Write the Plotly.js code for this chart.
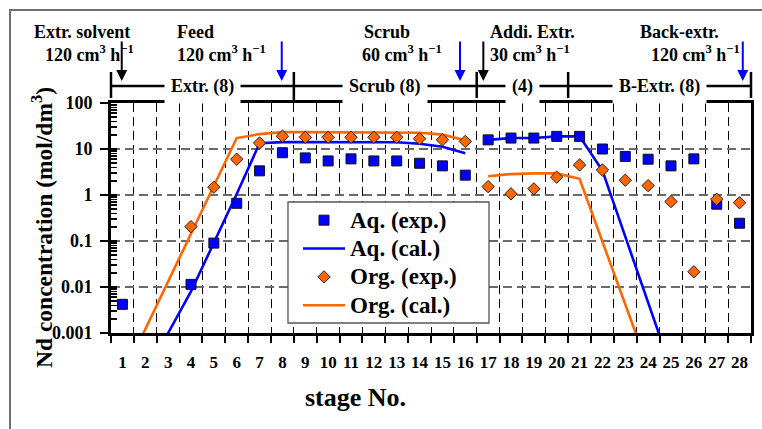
<!DOCTYPE html>
<html>
<head>
<meta charset="utf-8">
<script src="https://cdn.plot.ly/plotly-3.0.1.min.js"></script>
<style>
  html, body { margin: 0; padding: 0; background: #ffffff; }
  #chart { width: 762px; height: 429px; }
</style>
</head>
<body>
<div id="chart"></div>
<script>
// Stage numbers of the 28-stage mixer-settler cascade
const stages = [1, 2, 3, 4, 5, 6, 7, 8, 9, 10, 11, 12, 13, 14, 15, 16, 17, 18, 19, 20, 21, 22, 23, 24, 25, 26, 27, 28];
const stageLabels = ['1', '2', '3', '4', '5', '6', '7', '8', '9', '10', '11', '12', '13', '14',
  '15', '16', '17', '18', '19', '20', '21', '22', '23', '24', '25', '26', '27', '28'];

// Measured Nd concentrations (mol/dm3) per stage
const aqExp = [0.0042, null, null, 0.0114, 0.09, 0.66, 3.35, 8.3, 6.4, 5.5, 6.1, 5.5, 5.5, 4.9,
  4.3, 2.7, 15.8, 17.3, 17.3, 18.8, 18.8, 10.0, 6.9, 6.0, 4.3, 6.1, 0.63, 0.243];
const orgExp = [null, null, null, 0.205, 1.48, 6.0, 13.5, 19.0, 18.0, 18.0, 18.0, 18.0, 18.0, 16.7,
  15.8, 14.6, 1.52, 1.06, 1.36, 2.44, 4.5, 3.5, 2.1, 1.6, 0.72, 0.0214, 0.81, 0.68];

// Calculated profiles: extraction + scrub section, then additional extraction + back-extraction
const aqCalStagesA = [2, 3, 4, 5, 6, 7, 8, 9, 10, 11, 12, 13, 14, 15, 16];
const aqCalA = [0.0001, 0.001, 0.008, 0.09, 1.05, 13.3, 14.1, 14.1, 14.1, 14.1, 14.1, 14.0, 13.0, 11.2, 8.1];
const aqCalStagesB = [17, 18, 19, 20, 21, 22, 23, 24, 25];
const aqCalB = [15.8, 17.3, 17.3, 18.8, 18.8, 3.4, 0.124, 0.0046, 0.00017];
const orgCalStagesA = [1, 2, 3, 4, 5, 6, 7, 8, 9, 10, 11, 12, 13, 14, 15, 16];
const orgCalA = [0.00011, 0.0012, 0.014, 0.15, 1.6, 17.3, 21.1, 23.3, 23.3, 23.3, 23.3, 23.3, 23.1, 22.6, 20.5, 15.5];
const orgCalStagesB = [17, 18, 19, 20, 21, 22, 23, 24];
const orgCalB = [2.55, 2.85, 2.95, 2.95, 2.25, 0.097, 0.0041, 0.00018];

// Cascade sections and their boundaries (in stage units)
const sectionBounds = [0.5, 8.5, 16.5, 20.5, 28.5];
const sectionNames = ['Extr. (8)', 'Scrub (8)', '(4)', 'B-Extr. (8)'];

// Feed streams: name, flow rate, stage where they enter, phase colour
const inletNames = ['Extr. solvent', 'Feed', 'Scrub', 'Addi. Extr.', 'Back-extr.'];
const inletFlows = ['120 cm<sup>3</sup> h<sup>\u22121</sup>', '120 cm<sup>3</sup> h<sup>\u22121</sup>',
  '60 cm<sup>3</sup> h<sup>\u22121</sup>', '30 cm<sup>3</sup> h<sup>\u22121</sup>', '120 cm<sup>3</sup> h<sup>\u22121</sup>'];
const inletStages = [0.97, 7.97, 15.77, 16.79, 28.14];
const inletColors = ['#000000', '#0000ff', '#0000ff', '#000000', '#0000ff'];

const BLUE = '#0000ff';
const ORANGE = '#ff6600';
const SERIF = 'Liberation Serif, Times New Roman, serif';

const W = 762, H = 429;
const M = { l: 111, r: 11, t: 103, b: 96 };
const plotW = W - M.l - M.r, plotH = H - M.t - M.b;
const xRange = [0.5, 28.5];
const yRange = [-3, 2];
// pixel -> paper helpers for page decorations
const PX = px => (px - M.l) / plotW;
const PY = py => (H - M.b - py) / plotH;
const SX = s => (s - xRange[0]) / (xRange[1] - xRange[0]);

// legend entries: compact line spacing, larger glyphs
const legendName = t => '<span style="font-size:23px">' + t + '</span>';

// calculated lines live on the gridded x/y pair, measured points on the labelled x2/y2 pair
const traces = [
  { x: aqCalStagesA, y: aqCalA, mode: 'lines', name: legendName('Aq. (cal.)'), legendgroup: 'aqcal', legendrank: 2,
    line: { color: BLUE, width: 2.6 } },
  { x: aqCalStagesB, y: aqCalB, mode: 'lines', name: legendName('Aq. (cal.)'), legendgroup: 'aqcal', showlegend: false,
    line: { color: BLUE, width: 2.6 } },
  { x: orgCalStagesA, y: orgCalA, mode: 'lines', name: legendName('Org. (cal.)'), legendgroup: 'orgcal', legendrank: 4,
    line: { color: ORANGE, width: 2.6 } },
  { x: orgCalStagesB, y: orgCalB, mode: 'lines', name: legendName('Org. (cal.)'), legendgroup: 'orgcal', showlegend: false,
    line: { color: ORANGE, width: 2.6 } },
  { x: stages, y: aqExp, xaxis: 'x2', yaxis: 'y2', mode: 'markers', name: legendName('Aq. (exp.)'), legendrank: 1,
    marker: { symbol: 'square', size: 10, color: BLUE, line: { color: '#111', width: 1 } } },
  { x: stages, y: orgExp, xaxis: 'x2', yaxis: 'y2', mode: 'markers', name: legendName('Org. (exp.)'), legendrank: 3,
    marker: { symbol: 'diamond', size: 9.5, color: ORANGE, line: { color: '#222', width: 1 } } }
];

const bracketY = PY(86);
const shapes = [];
// outer frame of the figure
shapes.push({ type: 'rect', xref: 'paper', yref: 'paper', x0: PX(10), x1: PX(790), y0: PY(10), y1: PY(460),
  line: { color: '#6f6f6f', width: 2 }, layer: 'below' });
// section bracket above the plot
shapes.push({ type: 'line', xref: 'paper', yref: 'paper', x0: SX(sectionBounds[0]), x1: SX(sectionBounds[sectionBounds.length - 1]),
  y0: bracketY, y1: bracketY, line: { color: '#000', width: 2.5 } });
sectionBounds.forEach((b, i) => {
  shapes.push({ type: 'line', xref: 'paper', yref: 'paper', x0: SX(b), x1: SX(b),
    y0: PY(72), y1: i === 1 ? 1 : PY(98), line: { color: '#000', width: 2.5 } });
});
// legend box
shapes.push({ type: 'rect', xref: 'paper', yref: 'paper', x0: PX(288), x1: PX(489), y0: PY(323), y1: PY(202),
  fillcolor: '#ffffff', line: { color: '#555', width: 1.3 }, layer: 'above' });

const annotations = [];
sectionNames.forEach((name, i) => {
  annotations.push({ xref: 'paper', yref: 'paper', x: SX((sectionBounds[i] + sectionBounds[i + 1]) / 2), y: bracketY,
    text: name, showarrow: false, xanchor: 'center', yanchor: 'middle', bgcolor: '#ffffff', borderpad: 6,
    font: { family: SERIF, size: 18, weight: 'bold', color: '#000' } });
});
const nameLeft = [32, 175, 362, 488, 638];
const flowLeft = [43, 175, 360, 488, 649];
inletNames.forEach((name, i) => {
  annotations.push({ xref: 'paper', yref: 'paper', x: PX(nameLeft[i]), y: PY(32), text: name, showarrow: false,
    xanchor: 'left', yanchor: 'middle', font: { family: SERIF, size: 18, weight: 'bold', color: '#000' } });
  annotations.push({ xref: 'paper', yref: 'paper', x: PX(flowLeft[i]), y: PY(54), text: inletFlows[i], showarrow: false,
    xanchor: 'left', yanchor: 'middle', font: { family: SERIF, size: 18, weight: 'bold', color: '#000' } });
  annotations.push({ xref: 'x', yref: 'paper', x: inletStages[i], y: PY(81), text: '', showarrow: true,
    ax: 0, ay: -41, arrowhead: 2, arrowsize: 1.1, arrowwidth: 2, arrowcolor: inletColors[i], standoff: 0 });
});
// axis titles
annotations.push({ xref: 'paper', yref: 'paper', x: PX(42), y: PY(228), textangle: -90, showarrow: false,
  text: 'Nd concentration (mol/dm<sup>3</sup>)', xanchor: 'center', yanchor: 'middle',
  font: { family: SERIF, size: 23.5, weight: 'bold', color: '#000' } });
annotations.push({ xref: 'paper', yref: 'paper', x: PX(355), y: PY(397), showarrow: false,
  text: 'stage No.', xanchor: 'center', yanchor: 'middle',
  font: { family: SERIF, size: 26, weight: 'bold', color: '#000' } });

const tickFont = { family: SERIF, size: 17, weight: 'bold', color: '#000' };

const layout = {
  width: W, height: H,
  margin: M,
  paper_bgcolor: '#ffffff', plot_bgcolor: '#ffffff',
  font: { family: SERIF, color: '#000', weight: 'bold' },
  showlegend: true,
  legend: { x: PX(298), y: PY(201), xanchor: 'left', yanchor: 'top', bgcolor: 'rgba(0,0,0,0)', borderwidth: 0,
    tracegroupgap: 0, itemwidth: 42, font: { family: SERIF, size: 19.5, weight: 'bold', color: '#000' } },
  // stage boundaries: ticks and dashed grid at half-stages
  xaxis: {
    range: xRange, tickmode: 'linear', tick0: 0.5, dtick: 1, ticks: 'outside', ticklen: 7, tickwidth: 2,
    tickcolor: '#000', showticklabels: false,
    showgrid: true, gridcolor: '#000', gridwidth: 1, griddash: '9px,5px', zeroline: false,
    showline: true, linewidth: 3, linecolor: '#000', mirror: true
  },
  // stage numbers
  xaxis2: {
    range: xRange, overlaying: 'x', anchor: 'y', side: 'bottom', tickmode: 'array', tickvals: stages,
    ticktext: stageLabels, ticks: '', showgrid: false, zeroline: false, showline: false,
    tickfont: tickFont, ticklabelstandoff: 17
  },
  yaxis: {
    type: 'log', range: yRange, dtick: 1, ticks: 'outside', ticklen: 8, tickwidth: 2.5, tickcolor: '#000',
    showgrid: true, gridcolor: '#6a6a6a', gridwidth: 2, griddash: '9px,5px', zeroline: false,
    showline: true, linewidth: 3, linecolor: '#000', mirror: true,
    tickfont: { family: SERIF, size: 18, weight: 'bold', color: '#000' }, ticklabelstandoff: 4
  },
  // inner log ticks on the concentration axis
  yaxis2: {
    type: 'log', range: yRange, dtick: 'D1', overlaying: 'y', side: 'left', anchor: 'x',
    ticks: 'inside', ticklen: 6, tickwidth: 1.6, tickcolor: '#000', showticklabels: false,
    showgrid: false, zeroline: false, showline: false
  },
  shapes: shapes,
  annotations: annotations
};

Plotly.newPlot('chart', traces, layout, { displayModeBar: false, staticPlot: true });
</script>
</body>
</html>
